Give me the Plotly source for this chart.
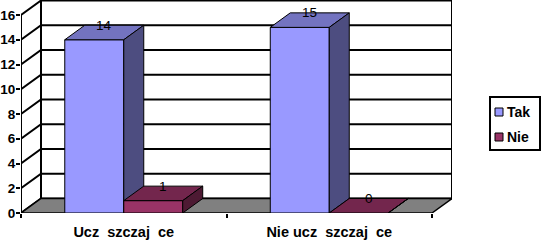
import plotly.graph_objects as go

# ---------------- data ----------------
CATEGORIES = ["Ucz\u00a0\u00a0szczaj\u00a0\u00a0ce", "Nie ucz\u00a0\u00a0szczaj\u00a0\u00a0ce"]
SERIES = ["Tak", "Nie"]
TAK = [14, 15]
NIE = [1, 0]
Y_TICKS = [0, 2, 4, 6, 8, 10, 12, 14, 16]

# ---------------- style ----------------
W, H = 543, 241
ML, MR, MT, MB = 21, 91, 0, 28
PLOT_W = W - ML - MR
PLOT_H = H - MT - MB
PX_X = 205.5            # pixels per category
PX_Y = 12.375           # pixels per value unit
DX = 20 / PX_X          # depth offset (x, data units)
DY = 14.5 / PX_Y        # depth offset (y, data units)
BAR_W = 0.287
X0, X1 = -0.5, 1.5
YMAX = PLOT_H / PX_Y
FONT = "Liberation Sans, Arial, sans-serif"

FRONT = {"Tak": "#9999FF", "Nie": "#993366"}
TOP = {"Tak": "#7373C0", "Nie": "#73264D"}
SIDE = {"Tak": "#4D4D80", "Nie": "#4D1A33"}
FLOOR = "#808080"

fig = go.Figure()

# walls: gridlines on back wall and left side wall
gx, gy = [], []
for v in Y_TICKS:
    gx += [X0, X0 + DX, X1 + DX, None]
    gy += [v, v + DY, v + DY, None]
gx += [X0, X0, None, X0 + DX, X0 + DX, None, X1 + DX, X1 + DX, None]
gy += [0, Y_TICKS[-1], None, DY, Y_TICKS[-1] + DY, None, DY, Y_TICKS[-1] + DY, None]
fig.add_trace(go.Scatter(x=gx, y=gy, mode="lines", line=dict(color="black", width=2),
                         hoverinfo="skip", showlegend=False))

# floor
fig.add_trace(go.Scatter(x=[X0, X1, X1 + DX, X0 + DX, X0],
                         y=[0, 0, DY, DY, 0],
                         mode="lines", fill="toself", fillcolor=FLOOR,
                         line=dict(color="black", width=1.5),
                         hoverinfo="skip", showlegend=False))


def poly(xs, ys, color):
    fig.add_trace(go.Scatter(x=xs + [xs[0]], y=ys + [ys[0]], mode="lines",
                             fill="toself", fillcolor=color,
                             line=dict(color="black", width=1),
                             hoverinfo="skip", showlegend=False))


annotations = []
values = {"Tak": TAK, "Nie": NIE}
for i, cat in enumerate(CATEGORIES):
    for s in SERIES:
        v = values[s][i]
        xl = i - BAR_W if s == "Tak" else i
        xr = xl + BAR_W
        # front
        poly([xl, xr, xr, xl], [0, 0, v, v], FRONT[s])
        # top
        poly([xl, xr, xr + DX, xl + DX], [v, v, v + DY, v + DY], TOP[s])
        # side
        poly([xr, xr + DX, xr + DX, xr], [0, DY, v + DY, v], SIDE[s])
        annotations.append(dict(x=(xl + xr) / 2 + DX / 2, y=v + DY, text=str(v),
                                showarrow=False, xanchor="center", yanchor="middle",
                                font=dict(family=FONT, size=13.5, color="black")))


# manual legend (pixel -> paper helpers)
def px(x):
    return (x - ML) / PLOT_W


def py(y):
    return (H - MB - y) / PLOT_H


shapes = [dict(type="rect", xref="paper", yref="paper",
               x0=px(490), x1=px(540), y0=py(150), y1=py(97),
               line=dict(color="black", width=2), fillcolor="white", layer="above")]
for k, s in enumerate(SERIES):
    cy = 112 + 25 * k
    shapes.append(dict(type="rect", xref="paper", yref="paper",
                       x0=px(495), x1=px(503), y0=py(cy + 4), y1=py(cy - 4),
                       line=dict(color="black", width=1), fillcolor=FRONT[s], layer="above"))
    annotations.append(dict(xref="paper", yref="paper", x=px(505), y=py(cy), text=s,
                            showarrow=False, xanchor="left", yanchor="middle",
                            font=dict(family=FONT, size=14, color="black", weight="bold")))

fig.update_layout(
    width=W, height=H,
    margin=dict(l=ML, r=MR, t=MT, b=MB, pad=0, autoexpand=False),
    paper_bgcolor="white", plot_bgcolor="white",
    showlegend=False,
    shapes=shapes,
    annotations=annotations,
    xaxis=dict(range=[X0, X1 + DX], tickvals=[0, 1], ticktext=CATEGORIES,
               ticks="", showgrid=False, zeroline=False, showline=False,
               ticklabelstandoff=8, automargin=False,
               tickfont=dict(family=FONT, size=14.5, color="black", weight="bold"),
               minor=dict(tickvals=[X0, 0.5, X1], ticks="outside", ticklen=4,
                          tickcolor="black", tickwidth=1.5),
               fixedrange=True),
    yaxis=dict(range=[0, YMAX], tickvals=Y_TICKS, ticks="outside", ticklen=4,
               tickcolor="black", tickwidth=1.5, showgrid=False, zeroline=False,
               showline=False, automargin=False, ticklabelstandoff=-2,
               tickfont=dict(family=FONT, size=13.5, color="black", weight="bold"),
               fixedrange=True),
)

fig.write_html("out.html")
